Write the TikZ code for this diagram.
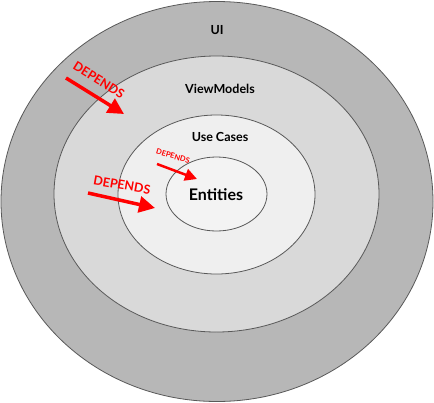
\documentclass[tikz,border=0pt]{standalone}
\usepackage{fontspec}
\setmainfont{Lato}
\usetikzlibrary{shapes.geometric,arrows.meta}
\definecolor{ringA}{HTML}{B7B7B7}
\definecolor{ringB}{HTML}{D9D9D9}
\definecolor{ringC}{HTML}{EFEFEF}
\definecolor{ringD}{HTML}{F3F3F3}
\definecolor{edgegray}{HTML}{595959}
\tikzset{
  ring/.style={draw=edgegray, line width=0.8pt, ellipse, inner sep=0pt},
  layerlabel/.style={font=\bfseries\fontsize{12.5}{15}\selectfont, text=black},
  deplabel/.style={text=red, inner sep=0pt},
  deparrow/.style={draw=red, line width=3.5pt, -{Triangle[length=16pt,width=16pt]}},
  smallarrow/.style={draw=red, line width=2.5pt, -{Triangle[length=12pt,width=12pt]}}
}
\begin{document}
\begin{tikzpicture}[x=1pt,y=-1pt]
\useasboundingbox (0,0) rectangle (434,402);
\node[ring, fill=ringA, minimum width=432pt, minimum height=400pt] (ui) at (217,201.5) {};
\node[ring, fill=ringB, minimum width=325pt, minimum height=276pt] (vm) at (216.5,194) {};
\node[ring, fill=ringC, minimum width=197pt, minimum height=159pt] (uc) at (216.5,194.5) {};
\node[ring, fill=ringD, minimum width=101pt, minimum height=74pt] (en) at (216.5,194) {};
\node[layerlabel] (tui) at (217,30) {UI};
\node[layerlabel] (tvm) at (220,89) {ViewModels};
\node[layerlabel] (tuc) at (220,137) {Use Cases};
\node[font=\bfseries\fontsize{16}{19}\selectfont] (ten) at (216,195) {Entities};
% arrow 1
\coordinate (a1s) at (66,78);
\coordinate (a1e) at (124,114);
\draw[deparrow] (a1s) -- (a1e);
\node[deplabel, font=\bfseries\fontsize{12.5}{14}\selectfont, rotate=-32] (l1) at (99,80) {DEPENDS};
% arrow 2
\coordinate (a2s) at (88,193);
\coordinate (a2e) at (155,208);
\draw[deparrow] (a2s) -- (a2e);
\node[deplabel, font=\bfseries\fontsize{12.5}{14}\selectfont, rotate=-10] (l2) at (122,185) {DEPENDS};
% arrow 3
\coordinate (a3s) at (157,164);
\coordinate (a3e) at (197,179);
\draw[smallarrow] (a3s) -- (a3e);
\node[deplabel, font=\bfseries\fontsize{7.5}{8}\selectfont, rotate=-17] (l3) at (173,156) {DEPENDS};
\end{tikzpicture}
\end{document}
